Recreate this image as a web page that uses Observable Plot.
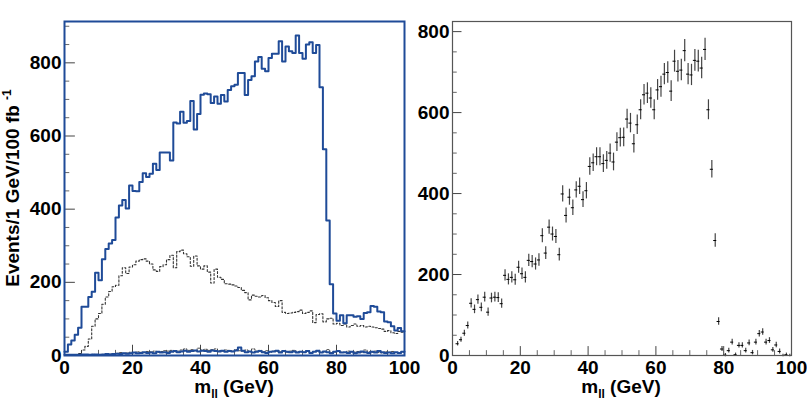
<!DOCTYPE html>
<html><head><meta charset="utf-8">
<script src="https://cdn.jsdelivr.net/npm/d3@7"></script>
<script src="https://cdn.jsdelivr.net/npm/@observablehq/plot@0.6"></script>
<style>
html,body{margin:0;padding:0;background:#fff;}
#wrap{position:relative;width:807px;height:415px;overflow:hidden;background:#fff;}
#wrap svg{position:absolute;top:0;overflow:visible;}
</style></head><body><div id="wrap"></div>
<script>
// ---- Left panel: same-flavour histogram (solid blue), opposite-flavour (dotted), low backgrounds ----
const sfBlue = [
  10,30,41,57,76,133,133,160,174,226,
  206,263,291,306,316,377,410,425,402,465,
  450,449,474,498,488,497,524,507,555,555,
  555,533,637,634,666,636,641,696,618,660,
  713,716,714,690,708,688,712,694,726,736,
  740,772,772,712,753,763,804,816,784,777,
  813,825,825,859,804,845,832,827,875,827,
  811,850,856,827,849,733,564,369,195,115,
  95,110,88,110,110,106,107,100,116,118,
  135,133,120,118,93,91,80,68,75,66
];
const ofDotted = [
  0,0,0,2,5,15,25,45,80,100,
  115,140,160,175,188,192,218,240,224,242,
  248,258,262,264,258,250,234,230,243,248,
  262,274,240,284,288,278,270,244,272,245,
  236,245,228,198,236,214,208,196,195,193,
  190,186,178,172,152,165,162,160,164,158,
  150,145,134,150,118,115,116,118,120,124,
  115,118,122,90,112,114,92,100,102,86,
  88,82,86,78,82,86,80,82,78,80,
  78,76,74,72,66,68,62,60,66,64
];
const lowBlue = [
  2,2,2,2,2,3,3,2,3,3,2,3,4,3,4,5,4,6,5,6,
  8,6,7,9,7,8,6,10,8,9,7,10,12,9,11,13,10,12,14,11,
  13,12,10,14,12,11,13,10,12,11,14,22,13,9,11,8,10,12,9,7,
  10,11,13,8,12,10,9,11,8,10,9,12,7,10,13,8,11,9,6,10,
  12,8,9,7,10,6,8,11,9,7,10,8,12,9,7,8,6,9,7,10
];
const lowBlack = [
  0,0,0,0,1,2,1,2,3,2,3,3,4,4,5,6,8,6,7,9,
  8,10,9,8,11,10,12,9,11,13,12,14,10,12,15,18,14,16,13,20,
  15,17,14,16,18,13,12,15,14,12,16,13,12,15,11,18,12,14,10,13,
  9,12,11,10,13,8,12,14,10,11,9,13,8,11,12,9,10,16,8,10,
  11,9,8,12,10,9,11,8,15,10,9,12,8,7,10,9,11,8,7,9
];
// ---- Right panel: subtracted distribution with errors ----
const subVals = [
  null,29,39,55,74,129,114,138,119,144,
  107,142,144,143,128,198,188,193,187,218,
  202,193,235,232,226,236,296,253,317,300,
  294,249,399,346,391,365,409,418,385,407,
  467,476,491,491,474,482,500,478,527,538,
  539,584,574,523,570,607,644,648,636,607,
  656,664,695,699,653,727,702,705,753,695,
  693,729,727,710,756,607,460,284,84,16,
  1,12,33,2,25,25,12,31,7,33,
  54,58,33,37,14,26,10,0,2,0
];
const subErrs = [
  0,5.4,6.2,7.4,8.6,11.4,10.7,11.7,10.9,12,
  10.3,11.9,12,12,11.3,14.1,13.7,13.9,13.7,14.8,
  14.2,13.9,15.3,15.2,15,15.4,17.2,15.9,17.8,17.3,
  17.1,15.8,20,18.6,19.8,19.1,20.2,20.4,19.6,20.2,
  21.6,21.8,22.2,22.2,21.8,22,22.4,21.9,23,23.2,
  23.2,24.2,24,22.9,23.9,24.6,25.4,25.5,25.2,24.6,
  25.6,25.8,26.4,26.4,25.6,27,26.5,26.6,27.4,26.4,
  26.3,27,27,26.6,27.5,24.6,21.4,16.9,9.2,6,
  4,6,7,4,6.5,6.5,6,7,5.5,7,
  8,8,7,7,6,7,6,3,4,3
];
const xTickLabels = [0,20,40,60,80,100];
const xMinorTicks = [5,10,15,25,30,35,45,50,55,65,70,75,85,90,95];
const yTickLabels = [0,200,400,600,800];
const yMinorLeft = [50,100,150,250,300,350,450,500,550,650,700,750,850,900];
const yMinorRight = [50,100,150,250,300,350,450,500,550,650,700,750];

const BLUE = "#1f4b98";
const FONT = "'Liberation Sans', Arial, Helvetica, sans-serif";

function steps(vals) {
  const r = vals.map((v, i) => ({x: i, y: v}));
  r.push({x: vals.length, y: vals[vals.length - 1]});
  return r;
}

const baseStyle = {fontFamily: FONT, fontSize: "19px", fontWeight: "bold", color: "#000", background: "transparent", overflow: "visible"};

const left = Plot.plot({
  width: 420, height: 415,
  marginLeft: 64, marginRight: 16, marginTop: 21, marginBottom: 60,
  x: {domain: [0, 100]},
  y: {domain: [0, 913]},
  style: baseStyle,
  marks: [
    Plot.ruleY(yMinorLeft, {x1: 0, x2: 1.55, stroke: "#666", strokeWidth: 1}),
    Plot.ruleY(yTickLabels, {x1: 0, x2: 3.2, stroke: "#444", strokeWidth: 1}),
    Plot.ruleX(xMinorTicks, {y1: 0, y2: 14, stroke: "#666", strokeWidth: 1}),
    Plot.ruleX(xTickLabels, {y1: 0, y2: 28, stroke: "#444", strokeWidth: 1}),
    Plot.line(steps(ofDotted), {x: "x", y: "y", curve: "step-after", stroke: "#333", strokeWidth: 1.1, strokeDasharray: "2,2"}),
    Plot.line(steps(lowBlack), {x: "x", y: "y", curve: "step-after", stroke: "#333", strokeWidth: 0.9, strokeDasharray: "2,1.5"}),
    Plot.line(steps(lowBlue), {x: "x", y: "y", curve: "step-after", stroke: BLUE, strokeWidth: 2}),
    Plot.line(steps(sfBlue), {x: "x", y: "y", curve: "step-after", stroke: BLUE, strokeWidth: 2}),
    Plot.frame({stroke: BLUE, strokeWidth: 2}),
    Plot.axisY(yTickLabels, {tickSize: 0, tickPadding: 3, label: null, tickFormat: d => String(d)}),
    Plot.axisX(xTickLabels, {tickSize: 0, tickPadding: 5, label: null, tickFormat: d => String(d)})
  ]
});

const pts = subVals.map((v, i) => ({x: i + 0.5, y: v, e: subErrs[i]})).filter(d => d.y !== null);

const right = Plot.plot({
  width: 403, height: 415,
  marginLeft: 48, marginRight: 16, marginTop: 21, marginBottom: 60,
  x: {domain: [0, 100]},
  y: {domain: [0, 825]},
  style: baseStyle,
  marks: [
    Plot.ruleY(yMinorRight, {x1: 0, x2: 1.4, stroke: "#666", strokeWidth: 1}),
    Plot.ruleY(yTickLabels, {x1: 0, x2: 2.8, stroke: "#444", strokeWidth: 1}),
    Plot.ruleX(xMinorTicks, {y1: 0, y2: 12, stroke: "#666", strokeWidth: 1}),
    Plot.ruleX(xTickLabels, {y1: 0, y2: 22, stroke: "#444", strokeWidth: 1}),
    Plot.ruleX(pts, {x: "x", y1: d => d.y - d.e, y2: d => d.y + d.e, stroke: "#444", strokeWidth: 1.2}),
    Plot.ruleY(pts, {y: "y", x1: d => d.x - 0.45, x2: d => d.x + 0.45, stroke: "#000", strokeWidth: 1}),
    Plot.frame({stroke: "#555", strokeWidth: 1.2}),
    Plot.axisY(yTickLabels, {tickSize: 0, tickPadding: 3, label: null, tickFormat: d => String(d)}),
    Plot.axisX(xTickLabels, {tickSize: 0, tickPadding: 5, label: null, tickFormat: d => String(d)})
  ]
});

const wrap = document.getElementById("wrap");
left.style.left = "0px";
right.style.left = "404px";
wrap.appendChild(left);
wrap.appendChild(right);

function addXLabel(svg, cx) {
  const t = d3.select(svg).append("text")
    .attr("x", cx).attr("y", 393)
    .attr("text-anchor", "middle")
    .style("font-family", FONT).style("font-weight", "bold").style("font-size", "19px")
    .attr("fill", "#000");
  t.append("tspan").text("m");
  t.append("tspan").attr("dy", 5).style("font-size", "12px").text("ll");
  t.append("tspan").attr("dy", -5).text(" (GeV)");
}
addXLabel(left, 234);
addXLabel(right, 217);

const yl = d3.select(left).append("text")
  .attr("transform", "translate(18.5,188) rotate(-90)")
  .attr("text-anchor", "middle")
  .style("font-family", FONT).style("font-weight", "bold").style("font-size", "19px")
  .attr("fill", "#000");
yl.append("tspan").text("Events/1 GeV/100 fb ");
yl.append("tspan").attr("dy", -8).style("font-size", "12px").text("-1");
</script>
</body></html>
